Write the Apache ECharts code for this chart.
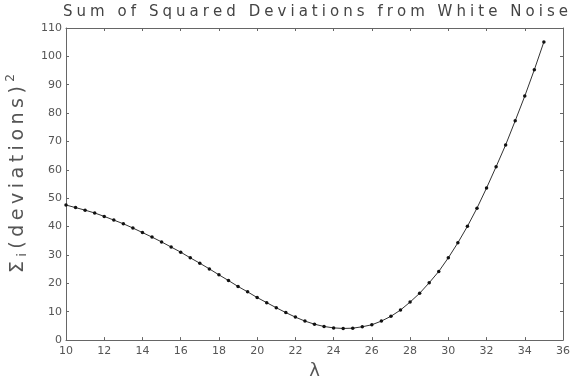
<!DOCTYPE html>
<html><head><meta charset="utf-8">
<script src="https://cdn.jsdelivr.net/npm/echarts@6/dist/echarts.min.js"></script>
<style>html,body{margin:0;padding:0;background:#fff}#c{width:573px;height:385px}</style>
</head><body><div id="c"></div>
<script>
// ---- data ----
const titleText = 'Sum of Squared Deviations from White Noise';
const xAxisName = 'λ';
const yNameParts = [['Σ', 'main'], ['i', 'sub'], ['(', 'main'], ['deviations', 'main'], [')', 'main'], ['2', 'sup']];
const xTickLabels = ['10','12','14','16','18','20','22','24','26','28','30','32','34','36'];
const yTickLabels = ['0','10','20','30','40','50','60','70','80','90','100','110'];
const lambdaValues = [10,10.5,11,11.5,12,12.5,13,13.5,14,14.5,15,15.5,16,16.5,17,17.5,18,18.5,19,19.5,
  20,20.5,21,21.5,22,22.5,23,23.5,24,24.5,25,25.5,26,26.5,27,27.5,28,28.5,29,29.5,
  30,30.5,31,31.5,32,32.5,33,33.5,34,34.5,35];
const sumSquaredDeviations = [47.6,46.7,45.8,44.8,43.6,42.3,41.0,39.5,37.9,36.3,34.6,32.8,31.0,29.0,27.1,25.1,23.0,21.0,18.9,17.0,
  15.0,13.2,11.4,9.7,8.1,6.7,5.6,4.8,4.3,4.1,4.2,4.7,5.4,6.7,8.4,10.6,13.4,16.5,20.2,24.2,
  29.0,34.3,40.1,46.5,53.6,61.1,68.8,77.3,86.0,95.3,105.1];

// ---- chart ----
const FONT = '"DejaVu Sans"';
const xMin = Number(xTickLabels[0]), xMax = Number(xTickLabels[xTickLabels.length-1]);
const xInt = Number(xTickLabels[1]) - xMin;
const yMin = Number(yTickLabels[0]), yMax = Number(yTickLabels[yTickLabels.length-1]);
const yInt = Number(yTickLabels[1]) - yMin;

const meas = document.createElement('canvas').getContext('2d');
function w(ch, size){ meas.font = size + 'px ' + FONT; return meas.measureText(ch).width; }

const graphics = [];
// Title: letter-spaced characters
(function(){
  const size = 15, x0 = 63, x1 = 568, y = 12;
  const chars = titleText.split('');
  const ws = chars.map(c => w(c, size));
  const total = ws.reduce((a,b)=>a+b,0);
  const sp = (x1 - x0 - total) / (chars.length - 1);
  let cx = x0;
  chars.forEach((c,i) => {
    if (c !== ' ') graphics.push({type:'text', x: cx, y: y, silent:true,
      style:{text:c, font: size+'px '+FONT, fill:'#444', align:'left', verticalAlign:'middle', textAlign:'left', textVerticalAlign:'middle'}});
    cx += ws[i] + sp;
  });
})();
// Y axis name: rotated, letter-spaced characters
(function(){
  const sizes = {main:19, sub:12, sup:12};
  const offs = {main:0, sub:5, sup:-7};
  const y0 = 273, y1 = 74, xc = 18;
  const items = [];
  yNameParts.forEach(([t,k]) => t.split('').forEach(c => items.push([c,k])));
  const ws = items.map(([c,k]) => w(c, sizes[k]));
  const total = ws.reduce((a,b)=>a+b,0);
  const sp = (y0 - y1 - total) / (items.length - 1);
  let cy = y0;
  items.forEach(([c,k],i) => {
    graphics.push({type:'text', x: xc + offs[k], y: cy, rotation: Math.PI/2, silent:true,
      style:{text:c, font: sizes[k]+'px '+FONT, fill:'#555', align:'left', verticalAlign:'middle', textAlign:'left', textVerticalAlign:'middle'}});
    cy -= ws[i] + sp;
  });
})();

const axisColor = '#666';
const labelStyle = {color:'#555', fontFamily: FONT, fontSize: 11};
function xAx(pos, show){
  return {type:'value', position:pos, min:xMin, max:xMax, interval:xInt,
    axisLine:{show:true, onZero:false, lineStyle:{color:axisColor, width:1}},
    axisTick:{show:true, inside:true, length:3, lineStyle:{color:axisColor}},
    axisLabel:{show:show, margin:6, ...labelStyle, showMinLabel:true, showMaxLabel:true},
    splitLine:{show:false},
    name: show ? xAxisName : '', nameLocation:'middle', nameGap:20,
    nameTextStyle:{fontFamily:FONT, fontSize:18, color:'#555'}};
}
function yAx(pos, show){
  return {type:'value', position:pos, min:yMin, max:yMax, interval:yInt,
    axisLine:{show:true, onZero:false, lineStyle:{color:axisColor, width:1}},
    axisTick:{show:true, inside:true, length:3, lineStyle:{color:axisColor}},
    axisLabel:{show:show, margin:4, ...labelStyle},
    splitLine:{show:false}};
}

const chart = echarts.init(document.getElementById('c'), null, {renderer:'canvas'});
chart.setOption({
  animation:false,
  backgroundColor:'#fff',
  grid:{left:66, right:5, top:28, bottom:40},
  xAxis:[xAx('bottom', true), xAx('top', false)],
  yAxis:[yAx('left', true), yAx('right', false)],
  graphic: graphics,
  series:[{
    type:'line',
    data: lambdaValues.map((x,i)=>[x, sumSquaredDeviations[i]]),
    symbol:'circle', symbolSize:3.5, showSymbol:true,
    itemStyle:{color:'#111'},
    lineStyle:{color:'#333', width:1},
    clip:false
  }]
});
</script></body></html>
